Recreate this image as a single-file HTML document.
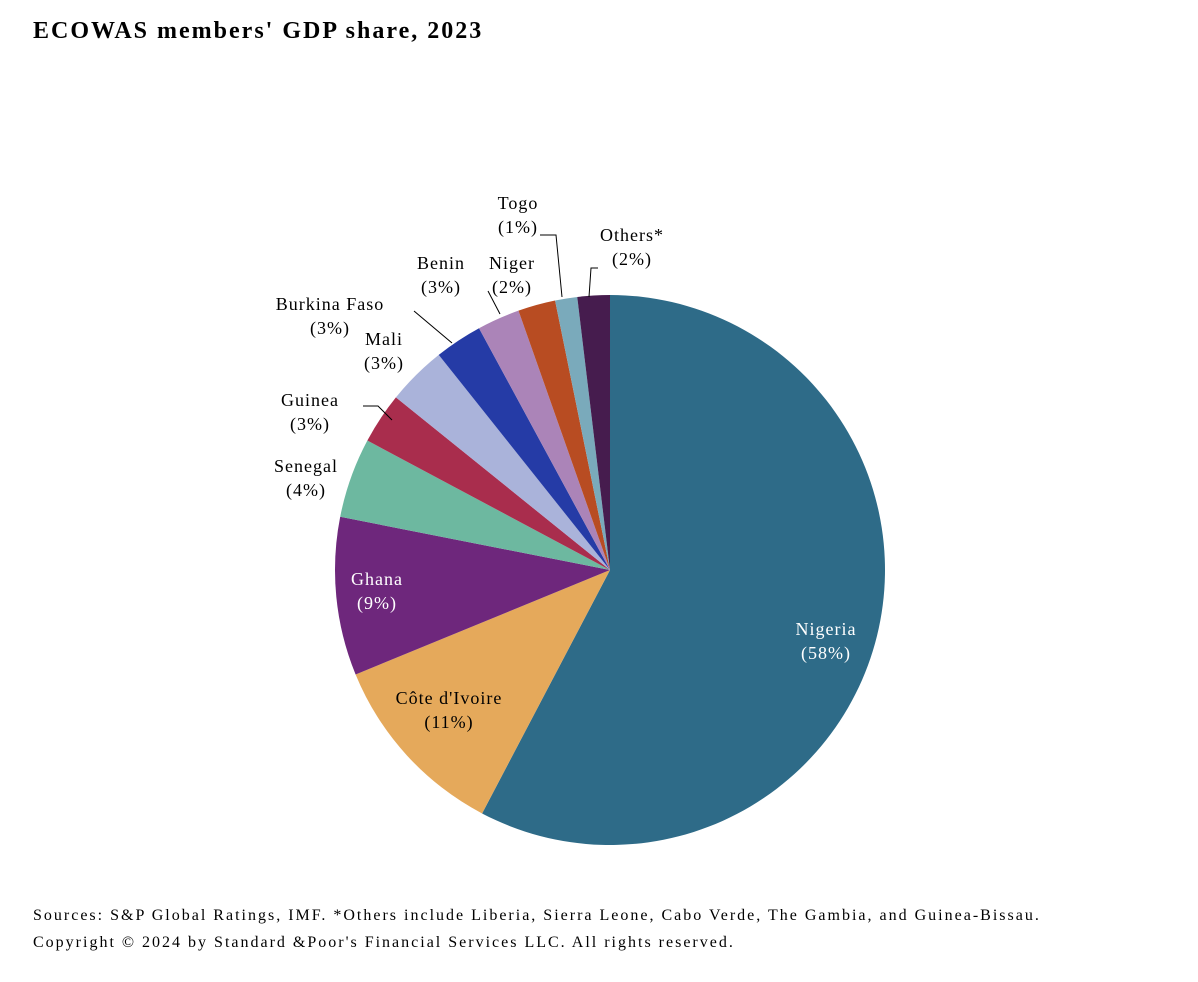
<!DOCTYPE html>
<html><head><meta charset="utf-8"><style>
body{margin:0;background:#fff;width:1198px;height:982px;overflow:hidden;font-family:"Liberation Serif",serif;}
#title{position:absolute;left:33px;top:18px;font-size:24px;font-weight:bold;color:#000;letter-spacing:2px;}
.foot{position:absolute;left:33px;font-size:16px;letter-spacing:2px;color:#000;}
</style></head><body>
<div id="title">ECOWAS members' GDP share, 2023</div>
<svg id="chart" width="1198" height="982" style="position:absolute;left:0;top:0"></svg>
<div class="foot" style="top:907px">Sources: S&amp;P Global Ratings, IMF. *Others include Liberia, Sierra Leone, Cabo Verde, The Gambia, and Guinea-Bissau.</div>
<div class="foot" style="top:934px">Copyright © 2024 by Standard &amp;Poor's Financial Services LLC. All rights reserved.</div>
<script>
const categories=["Nigeria","Côte d'Ivoire","Ghana","Senegal","Guinea","Mali","Burkina Faso","Benin","Niger","Togo","Others*"];
const values=[57.7,11.1,9.3,4.7,3.0,3.5,2.8,2.5,2.2,1.3,1.9];
const pctLabels=["(58%)","(11%)","(9%)","(4%)","(3%)","(3%)","(3%)","(3%)","(2%)","(1%)","(2%)"];
const colors=["#2e6b88","#e5a95b","#6e277c","#6db8a0","#a92d4d","#aab3da","#253ba6","#ab84b8","#b84c22","#7aaabb","#461c4e"];
const svg=document.getElementById('chart');
const NS="http://www.w3.org/2000/svg";
const cx=610,cy=570,r=275;
const total=values.reduce((a,b)=>a+b,0);
function pt(a,rad){return [cx+rad*Math.sin(a),cy-rad*Math.cos(a)];}
let acc=0;
values.forEach((v,i)=>{
 const a0=acc/total*2*Math.PI;acc+=v;const a1=acc/total*2*Math.PI;
 const p0=pt(a0,r),p1=pt(a1,r);
 const path=document.createElementNS(NS,'path');
 path.setAttribute('d',`M${cx},${cy}L${p0[0]},${p0[1]}A${r},${r} 0 ${a1-a0>Math.PI?1:0} 1 ${p1[0]},${p1[1]}Z`);
 path.setAttribute('fill',colors[i]);
 
 
 svg.appendChild(path);
});
const lab=[[826,635,'#fff'],[449,704,'#000'],[377,585,'#fff'],[306,472,'#000'],[310,406,'#000'],[384,345,'#000'],[330,310,'#000'],[441,269,'#000'],[512,269,'#000'],[518,209,'#000'],[632,241,'#000']];
categories.forEach((c,i)=>{
 const [x,y,col]=lab[i];
 const t=document.createElementNS(NS,'text');
 t.setAttribute('x',x);t.setAttribute('y',y);t.setAttribute('text-anchor','middle');
 t.setAttribute('font-size','18');t.setAttribute('fill',col);t.setAttribute('letter-spacing','1');
 t.setAttribute('font-family','Liberation Serif, serif');
 
 
 const s1=document.createElementNS(NS,'tspan');s1.setAttribute('x',x);s1.textContent=c;
 const s2=document.createElementNS(NS,'tspan');s2.setAttribute('x',x);s2.setAttribute('dy','24');s2.textContent=pctLabels[i];
 t.appendChild(s1);t.appendChild(s2);svg.appendChild(t);
});
const leaders=["M540,235 L556,235 L562,297","M598,268 L591,268 L589,297","M488,291 L500,314","M414,311 L452,343","M363,406 L378,406 L392,420"];
leaders.forEach((d,i)=>{
 const p=document.createElementNS(NS,'path');p.setAttribute('d',d);p.setAttribute('stroke','#000');p.setAttribute('fill','none');p.setAttribute('stroke-width','1');
 
 
 svg.appendChild(p);
});
</script>
</body></html>
